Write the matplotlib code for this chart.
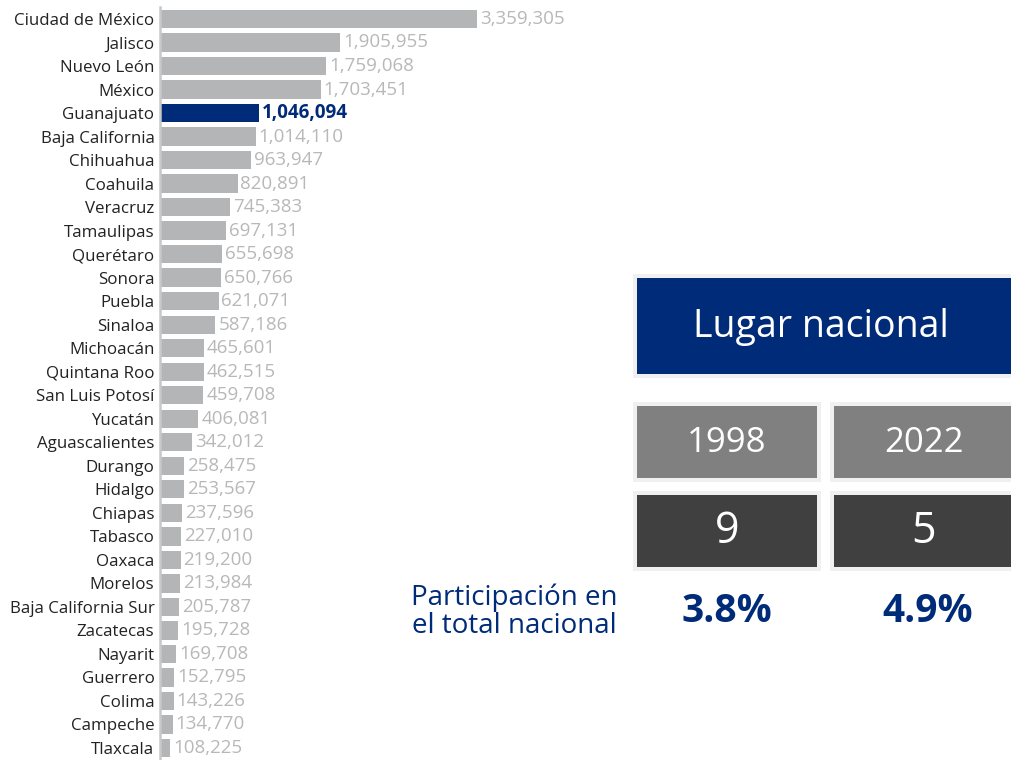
import matplotlib
matplotlib.use("Agg")
import matplotlib.pyplot as plt
from matplotlib.patches import Rectangle

# --- data ---
states = ["Ciudad de México", "Jalisco", "Nuevo León", "México", "Guanajuato",
          "Baja California", "Chihuahua", "Coahuila", "Veracruz", "Tamaulipas",
          "Querétaro", "Sonora", "Puebla", "Sinaloa", "Michoacán", "Quintana Roo",
          "San Luis Potosí", "Yucatán", "Aguascalientes", "Durango", "Hidalgo",
          "Chiapas", "Tabasco", "Oaxaca", "Morelos", "Baja California Sur",
          "Zacatecas", "Nayarit", "Guerrero", "Colima", "Campeche", "Tlaxcala"]
values = [3359305, 1905955, 1759068, 1703451, 1046094, 1014110, 963947, 820891,
          745383, 697131, 655698, 650766, 621071, 587186, 465601, 462515, 459708,
          406081, 342012, 258475, 253567, 237596, 227010, 219200, 213984, 205787,
          195728, 169708, 152795, 143226, 134770, 108225]
highlight = "Guanajuato"

panel_title = "Lugar nacional"
years = ["1998", "2022"]
ranks = ["9", "5"]
shares = ["3.8%", "4.9%"]
share_label = "Participación en\nel total nacional"

NAVY = "#002b78"
BAR_GRAY = "#b4b5b6"
LABEL_GRAY = "#b8b8b8"

W, H = 1011, 760
fig = plt.figure(figsize=(W / 100, H / 100), dpi=100)
fig.patch.set_facecolor("white")


def fx(px):
    return px / W


def fy(py):
    return 1 - py / H


# --- bar chart ---
ax = fig.add_axes([fx(160), 0.0003, fx(480), 0.9902])
ypos = list(range(len(states)))
colors = [NAVY if s == highlight else BAR_GRAY for s in states]
bars = ax.barh(ypos, values, height=0.78, color=colors, left=0)
ax.set_ylim(len(states) - 0.5, -0.5)
ax.set_xlim(0, 5.08e6)
ax.set_yticks(ypos)
ax.set_yticklabels(states, fontsize=12.2, family="Open Sans", color="#222222")
ax.tick_params(axis="y", length=0, pad=4)
ax.set_xticks([])
for sp in ["top", "right", "bottom"]:
    ax.spines[sp].set_visible(False)
ax.spines["left"].set_color("#c8c8c8")
ax.spines["left"].set_linewidth(1.8)

for s, b, v in zip(states, bars, values):
    hl = s == highlight
    ax.annotate(f"{v:,}", (b.get_width(), b.get_y() + b.get_height() / 2),
                xytext=(2, 0), textcoords="offset points", va="center", ha="left",
                fontsize=13.5, family="Open Sans",
                color=NAVY if hl else LABEL_GRAY,
                fontweight="bold" if hl else "normal")


# --- right panel ---
def box(x0, y0, x1, y1, color, border=4):
    fig.patches.append(Rectangle((fx(x0 - border), fy(y1 + border)),
                                 fx(x1 - x0 + 2 * border), (y1 - y0 + 2 * border) / H,
                                 transform=fig.transFigure, facecolor="#f0f0f0",
                                 edgecolor="none", zorder=0))
    fig.patches.append(Rectangle((fx(x0), fy(y1)), fx(x1 - x0), (y1 - y0) / H,
                                 transform=fig.transFigure, facecolor=color,
                                 edgecolor="none", zorder=1))


box(637, 278, 1015, 374, NAVY)
fig.text(fx(821), fy(327), panel_title, ha="center", va="center", color="white",
         fontsize=27, family="Open Sans")

col_x = [(637, 817), (834, 1015)]
centers = [727, 924]
for (x0, x1), yr, rk, c in zip(col_x, years, ranks, centers):
    box(x0, 406, x1, 478, "#808080")
    box(x0, 495, x1, 567, "#404040")
    fig.text(fx(c), fy(443), yr, ha="center", va="center", color="white",
             fontsize=25, family="Open Sans")
    fig.text(fx(c), fy(532), rk, ha="center", va="center", color="white",
             fontsize=31, family="Open Sans")

fig.text(fx(514), fy(612), share_label, ha="center", va="center", color=NAVY,
         fontsize=20, family="Open Sans", linespacing=1.0)
for c, sh in zip([727, 928], shares):
    fig.text(fx(c), fy(612), sh, ha="center", va="center", color=NAVY,
             fontsize=28, family="Open Sans", fontweight="bold")

fig.savefig("out.png", dpi=100)
